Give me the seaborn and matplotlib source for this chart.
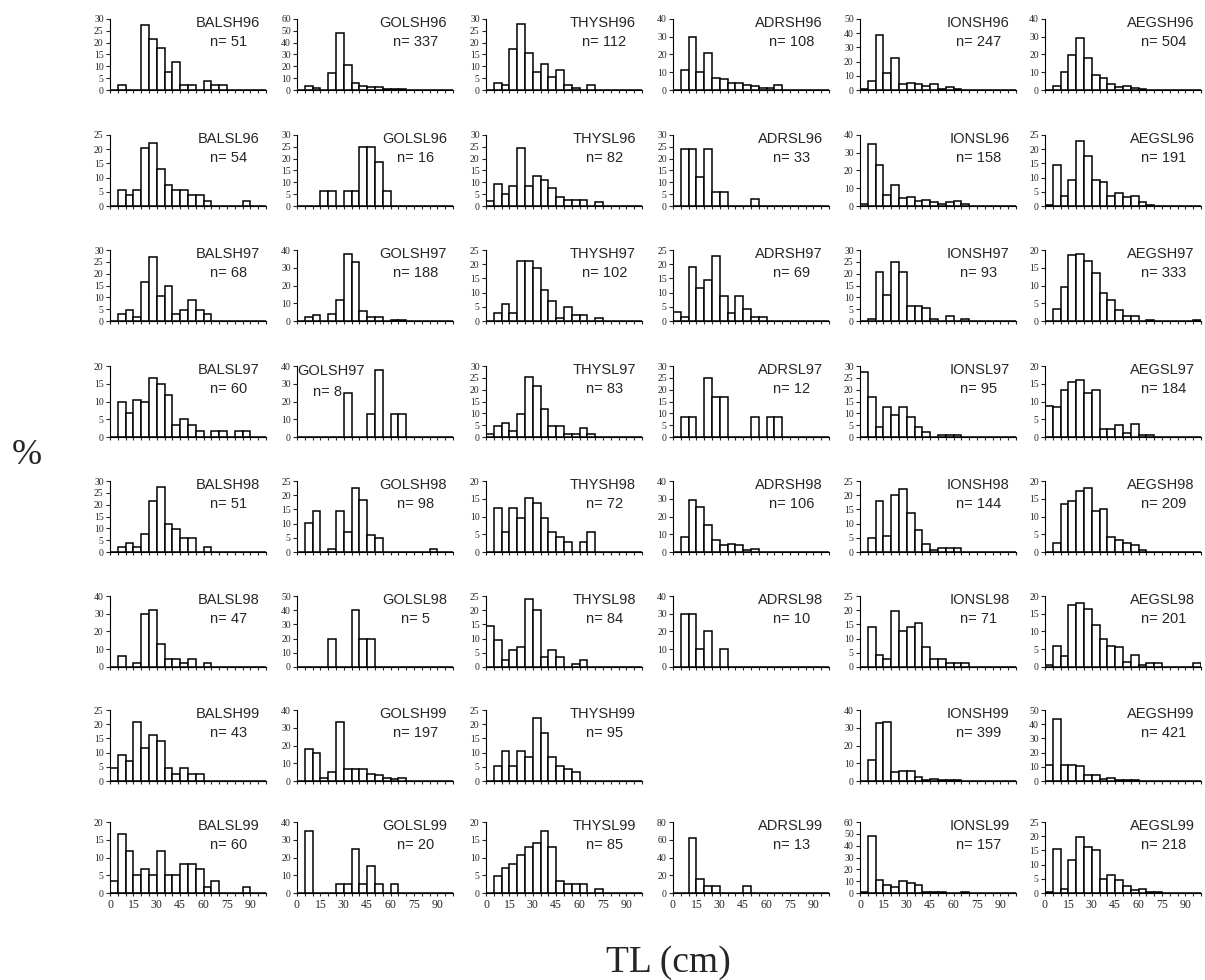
import numpy as np
import pandas as pd
import seaborn as sns
import matplotlib.pyplot as plt
from matplotlib.ticker import FixedLocator, FuncFormatter
from matplotlib.transforms import ScaledTranslation

sns.set_style("ticks")
plt.rcParams["font.family"] = ["Liberation Serif", "DejaVu Serif"]

# ---------------- DATA ----------------
# percentage per 5 cm TL class (0-5, 5-10, ..., 95-100)
edges = np.arange(0, 105, 5)
mids = edges[:-1] + 2.5

# row 1
BALSH96 = [0, 2, 0, 0, 27.5, 21.6, 17.6, 7.8, 11.8, 2, 2, 0, 3.9, 2, 2, 0, 0, 0, 0, 0]
GOLSH96 = [0, 3, 1.5, 0, 14, 48, 21.5, 5.5, 3.5, 2.5, 2.5, 1.2, 1.2, 1.2, 0, 0, 0, 0, 0, 0]
THYSH96 = [0, 3, 2, 17.5, 28, 15.5, 7.5, 11, 5.5, 8.5, 2, 1, 0, 2, 0, 0, 0, 0, 0, 0]
ADRSH96 = [0, 11.5, 30, 10.4, 20.7, 6.6, 6, 4, 4, 3, 2, 0.9, 0.9, 2.9, 0, 0, 0, 0, 0, 0]
IONSH96 = [1, 6.5, 39, 12, 22.5, 4, 5, 4, 2.5, 4, 1, 2, 1, 0, 0, 0, 0, 0, 0, 0]
AEGSH96 = [0, 2.5, 10, 19.5, 29.5, 18, 8.5, 6.5, 3.5, 1.5, 2.5, 1, 0.5, 0, 0, 0, 0, 0, 0, 0]
# row 2
BALSL96 = [0, 5.6, 3.7, 5.6, 20.4, 22.2, 13, 7.4, 5.6, 5.6, 3.7, 3.7, 1.9, 0, 0, 0, 0, 1.9, 0, 0]
GOLSL96 = [0, 0, 0, 6.25, 6.25, 0, 6.25, 6.25, 25, 25, 18.75, 6.25, 0, 0, 0, 0, 0, 0, 0, 0]
THYSL96 = [2, 9.5, 5, 8.5, 24.5, 8.5, 12.5, 11, 7.5, 4, 2.5, 2.5, 2.5, 0, 1.5, 0, 0, 0, 0, 0]
ADRSL96 = [0, 24.2, 24.2, 12.1, 24.2, 6.1, 6.1, 0, 0, 0, 3, 0, 0, 0, 0, 0, 0, 0, 0, 0]
IONSL96 = [1, 35, 23, 6, 12, 4.5, 5, 3, 3.5, 2, 1, 2, 3, 1, 0, 0, 0, 0, 0, 0]
AEGSL96 = [0.5, 14.5, 3.5, 9, 23, 17.5, 9, 8.5, 3.5, 4.5, 3, 3.5, 1.5, 0.5, 0, 0, 0, 0, 0, 0]
# row 3
BALSH97 = [0, 3, 4.5, 1.5, 16.5, 27, 10.5, 15, 3, 4.5, 9, 4.5, 3, 0, 0, 0, 0, 0, 0, 0]
GOLSH97 = [0, 2, 3.5, 0, 4, 12, 38, 33, 5.5, 2, 2, 0, 0.5, 0.5, 0, 0, 0, 0, 0, 0]
THYSH97 = [0, 2.9, 5.9, 2.9, 21, 21, 18.6, 10.8, 6.9, 1, 4.9, 2, 2, 0, 1, 0, 0, 0, 0, 0]
ADRSH97 = [3, 1.5, 19, 11.5, 14.5, 23, 8.7, 2.9, 8.7, 4.3, 1.5, 1.5, 0, 0, 0, 0, 0, 0, 0, 0]
IONSH97 = [0, 1, 20.5, 11, 25, 20.5, 6.5, 6.5, 5.5, 1, 0, 2, 0, 1, 0, 0, 0, 0, 0, 0]
AEGSH97 = [0, 3.5, 9.5, 18.5, 18.8, 17, 13.5, 8, 6, 3, 1.5, 1.5, 0, 0.3, 0, 0, 0, 0, 0, 0.3]
# row 4
BALSL97 = [0, 10, 6.7, 10.3, 10, 16.7, 15, 11.7, 3.3, 5, 3.3, 1.7, 0, 1.7, 1.7, 0, 1.7, 1.7, 0, 0]
GOLSL97 = [0, 0, 0, 0, 0, 0, 25, 0, 0, 13, 37.5, 0, 13, 13, 0, 0, 0, 0, 0, 0]
THYSL97 = [1.2, 4.8, 6, 2.4, 9.6, 25.3, 21.7, 12, 4.8, 4.8, 1.2, 1.2, 3.6, 1.2, 0, 0, 0, 0, 0, 0]
ADRSL97 = [0, 8.3, 8.3, 0, 25, 16.7, 16.7, 0, 0, 0, 8.3, 0, 8.3, 8.3, 0, 0, 0, 0, 0, 0]
IONSL97 = [27.4, 16.8, 4.2, 12.6, 9.5, 12.6, 8.4, 4.2, 2.1, 0, 1.05, 1.05, 1.05, 0, 0, 0, 0, 0, 0, 0]
AEGSL97 = [8.7, 8.4, 13.3, 15.5, 16, 12.5, 13.3, 2.2, 2.2, 3.3, 1.1, 3.8, 0.5, 0.5, 0, 0, 0, 0, 0, 0]
# row 5
BALSH98 = [0, 2, 3.9, 2, 7.8, 21.6, 27.5, 11.8, 9.8, 5.9, 5.9, 0, 2, 0, 0, 0, 0, 0, 0, 0]
GOLSH98 = [0, 10.2, 14.3, 0, 1, 14.3, 7.1, 22.4, 18.4, 6.1, 5.1, 0, 0, 0, 0, 0, 0, 1, 0, 0]
THYSH98 = [0, 12.5, 5.6, 12.5, 9.7, 15.3, 13.9, 9.7, 5.6, 4.2, 2.8, 0, 2.8, 5.6, 0, 0, 0, 0, 0, 0]
ADRSH98 = [0, 8.5, 29.2, 25.5, 15.1, 6.6, 3.8, 4.7, 3.8, 0.9, 1.9, 0, 0, 0, 0, 0, 0, 0, 0, 0]
IONSH98 = [0, 4.9, 18.1, 5.6, 20.1, 22.2, 13.9, 7.6, 2.8, 0.7, 1.4, 1.4, 1.4, 0, 0, 0, 0, 0, 0, 0]
AEGSH98 = [0, 2.4, 13.4, 14.4, 17.2, 17.9, 11.5, 12, 4.3, 3.3, 2.4, 1.9, 0.5, 0, 0, 0, 0, 0, 0, 0]
# row 6
BALSL98 = [0, 6.4, 0, 2.1, 29.8, 31.9, 12.8, 4.3, 4.3, 2.1, 4.3, 0, 2.1, 0, 0, 0, 0, 0, 0, 0]
GOLSL98 = [0, 0, 0, 0, 20, 0, 0, 40, 20, 20, 0, 0, 0, 0, 0, 0, 0, 0, 0, 0]
THYSL98 = [14.3, 9.5, 2.4, 6, 7.1, 23.8, 20.2, 3.6, 6, 3.6, 0, 1.2, 2.4, 0, 0, 0, 0, 0, 0, 0]
ADRSL98 = [0, 30, 30, 10, 20, 0, 10, 0, 0, 0, 0, 0, 0, 0, 0, 0, 0, 0, 0, 0]
IONSL98 = [0, 14.1, 4.2, 2.8, 19.7, 12.7, 14.1, 15.5, 7, 2.8, 2.8, 1.4, 1.4, 1.4, 0, 0, 0, 0, 0, 0]
AEGSL98 = [0.5, 6, 3, 17.4, 17.9, 16.4, 11.9, 8, 6, 5.5, 1.5, 3.5, 0.5, 1, 1, 0, 0, 0, 0, 1]
# row 7 (no ADRSH99 sample)
BALSH99 = [4.7, 9.3, 7, 20.9, 11.6, 16.3, 14, 4.7, 2.3, 4.7, 2.3, 2.3, 0, 0, 0, 0, 0, 0, 0, 0]
GOLSH99 = [0, 18, 15.5, 1.5, 5, 33, 6.5, 6.5, 6.5, 4, 3.5, 1.5, 1, 1.5, 0, 0, 0, 0, 0, 0]
THYSH99 = [0, 5.3, 10.5, 5.3, 10.5, 8.4, 22.1, 16.8, 8.4, 5.3, 4.2, 3.2, 0, 0, 0, 0, 0, 0, 0, 0]
ADRSH99 = None
IONSH99 = [0, 12, 32.8, 33.1, 5, 5.8, 5.8, 2.5, 0.8, 1.3, 0.5, 0.5, 0.5, 0, 0, 0, 0, 0, 0, 0]
AEGSH99 = [11.4, 43.5, 11.2, 11.2, 10.4, 4.3, 4, 1.4, 1.9, 1, 1, 0.5, 0, 0, 0, 0, 0, 0, 0, 0]
# row 8
BALSL99 = [3.3, 16.7, 11.7, 5, 6.7, 5, 11.7, 5, 5, 8.3, 8.3, 6.7, 1.7, 3.3, 0, 0, 0, 1.7, 0, 0]
GOLSL99 = [0, 35, 0, 0, 0, 5, 5, 25, 5, 15, 5, 0, 5, 0, 0, 0, 0, 0, 0, 0]
THYSL99 = [0, 4.7, 7.1, 8.2, 10.6, 12.9, 14.1, 17.6, 12.9, 3.5, 2.4, 2.4, 2.4, 0, 1.2, 0, 0, 0, 0, 0]
ADRSL99 = [0, 0, 61.5, 15.4, 7.7, 7.7, 0, 0, 0, 7.7, 0, 0, 0, 0, 0, 0, 0, 0, 0, 0]
IONSL99 = [1, 48.5, 10.8, 6.4, 5.1, 10.2, 8.3, 7, 1, 1, 1, 0, 0, 1, 0, 0, 0, 0, 0, 0]
AEGSL99 = [0.5, 15.6, 1.4, 11.5, 19.7, 16.1, 15.1, 5, 6.4, 4.6, 2.3, 0.9, 1.4, 0.5, 0.5, 0, 0, 0, 0, 0]

panels = [
    [BALSH96, GOLSH96, THYSH96, ADRSH96, IONSH96, AEGSH96],
    [BALSL96, GOLSL96, THYSL96, ADRSL96, IONSL96, AEGSL96],
    [BALSH97, GOLSH97, THYSH97, ADRSH97, IONSH97, AEGSH97],
    [BALSL97, GOLSL97, THYSL97, ADRSL97, IONSL97, AEGSL97],
    [BALSH98, GOLSH98, THYSH98, ADRSH98, IONSH98, AEGSH98],
    [BALSL98, GOLSL98, THYSL98, ADRSL98, IONSL98, AEGSL98],
    [BALSH99, GOLSH99, THYSH99, ADRSH99, IONSH99, AEGSH99],
    [BALSL99, GOLSL99, THYSL99, ADRSL99, IONSL99, AEGSL99],
]
titles = [
    ["BALSH96", "GOLSH96", "THYSH96", "ADRSH96", "IONSH96", "AEGSH96"],
    ["BALSL96", "GOLSL96", "THYSL96", "ADRSL96", "IONSL96", "AEGSL96"],
    ["BALSH97", "GOLSH97", "THYSH97", "ADRSH97", "IONSH97", "AEGSH97"],
    ["BALSL97", "GOLSH97", "THYSL97", "ADRSL97", "IONSL97", "AEGSL97"],
    ["BALSH98", "GOLSH98", "THYSH98", "ADRSH98", "IONSH98", "AEGSH98"],
    ["BALSL98", "GOLSL98", "THYSL98", "ADRSL98", "IONSL98", "AEGSL98"],
    ["BALSH99", "GOLSH99", "THYSH99", "", "IONSH99", "AEGSH99"],
    ["BALSL99", "GOLSL99", "THYSL99", "ADRSL99", "IONSL99", "AEGSL99"],
]
n_fish = [
    [51, 337, 112, 108, 247, 504],
    [54, 16, 82, 33, 158, 191],
    [68, 188, 102, 69, 93, 333],
    [60, 8, 83, 12, 95, 184],
    [51, 98, 72, 106, 144, 209],
    [47, 5, 84, 10, 71, 201],
    [43, 197, 95, 0, 399, 421],
    [60, 20, 85, 13, 157, 218],
]
y_max = [
    [30, 60, 30, 40, 50, 40],
    [25, 30, 30, 30, 40, 25],
    [30, 40, 25, 25, 30, 20],
    [20, 40, 30, 30, 30, 20],
    [30, 25, 20, 40, 25, 20],
    [40, 50, 25, 40, 25, 20],
    [25, 40, 25, 0, 40, 50],
    [20, 40, 20, 80, 60, 25],
]
x_labels = [0, 15, 30, 45, 60, 75, 90]

# ---------------- LAYOUT ----------------
W, H = 1205, 980
fig = plt.figure(figsize=(W / 100, H / 100), dpi=100)

col_left = [110, 297, 486, 673, 860, 1045]
row_base = [90, 206, 321, 437, 552, 667, 781, 893]
ax_w, ax_h = 156, 71

label_font = ["Liberation Sans Narrow", "Liberation Sans", "DejaVu Sans"]
shift_left = ScaledTranslation(-3.5 / 100, 0, fig.dpi_scale_trans)

for r in range(8):
    for c in range(6):
        vals = panels[r][c]
        if vals is None:
            continue
        ax = fig.add_axes([col_left[c] / W, 1 - row_base[r] / H, ax_w / W, ax_h / H])
        d = pd.DataFrame({"tl": mids, "pct": vals})
        sns.histplot(data=d, x="tl", weights="pct", binwidth=5, binrange=(0, 100),
                     ax=ax, color="white", edgecolor="black", linewidth=1.1, alpha=1)
        top = y_max[r][c]
        step = 20 if top >= 80 else (10 if top >= 40 else 5)
        ax.set_xlim(0, 100)
        ax.set_ylim(0, top)
        ax.set_yticks(np.arange(0, top + 0.1, step))
        ax.xaxis.set_major_locator(FixedLocator(edges))
        if r == 7:
            ax.xaxis.set_major_formatter(FuncFormatter(
                lambda v, p: f"{int(round(v))}" if int(round(v)) in x_labels else ""))
            for lab in ax.get_xticklabels():
                lab.set_transform(lab.get_transform() + shift_left)
        else:
            ax.set_xticklabels([])
        ax.tick_params(axis="y", length=3, width=0.8, labelsize=7, pad=1.5)
        ax.tick_params(axis="x", length=2.5, width=0.8, labelsize=8.5, pad=2)
        ax.set_xlabel("")
        ax.set_ylabel("")
        sns.despine(ax=ax)
        for s in ("left", "bottom"):
            ax.spines[s].set_linewidth(0.8)
            ax.spines[s].set_color("black")

        if r == 3 and c == 1:
            ax.text(0.0, 0.93, titles[r][c], transform=ax.transAxes, ha="left", va="center",
                    fontsize=10.5, family=label_font)
            ax.text(0.1, 0.63, f"n= {n_fish[r][c]}", transform=ax.transAxes, ha="left",
                    va="center", fontsize=10.5, family=label_font)
        else:
            ax.text(0.96, 0.95, titles[r][c], transform=ax.transAxes, ha="right", va="center",
                    fontsize=10.5, family=label_font)
            ax.text(0.76, 0.67, f"n= {n_fish[r][c]}", transform=ax.transAxes, ha="center",
                    va="center", fontsize=10.5, family=label_font)

fig.text(0.022, 0.535, "%", fontsize=26, ha="center", va="center")
fig.text(0.555, 0.018, "TL (cm)", fontsize=27, ha="center", va="center")

fig.savefig("out.png", dpi=100, facecolor="white")
